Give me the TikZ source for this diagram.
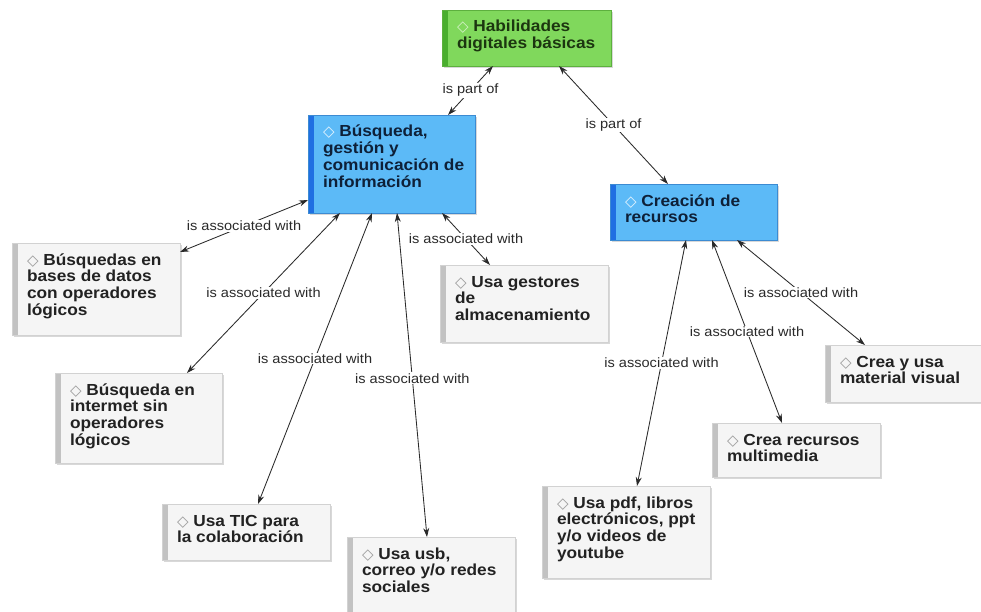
\documentclass[tikz,border=0pt]{standalone}
\usepackage{fontspec}
\setmainfont{Liberation Sans}[FakeStretch=1.08]
\newfontfamily\symfont{DejaVu Sans}
\usetikzlibrary{arrows.meta,shadows}

\definecolor{grfill}{HTML}{80D85C}
\definecolor{grstripe}{HTML}{4AAE2E}
\definecolor{grline}{HTML}{5DB03E}
\definecolor{grtext}{HTML}{1C3610}
\definecolor{blfill}{HTML}{5CBAF7}
\definecolor{blstripe}{HTML}{1F6FE2}
\definecolor{blline}{HTML}{3C8BD2}
\definecolor{bltext}{HTML}{0E2038}
\definecolor{gyfill}{HTML}{F5F5F5}
\definecolor{gystripe}{HTML}{C2C2C2}
\definecolor{gyline}{HTML}{D2D2D2}
\definecolor{gytext}{HTML}{222222}
\definecolor{linkcol}{HTML}{2A2A2A}

% text block of a concept box: width, height, text
\newcommand{\boxtext}[3]{\hspace*{15pt}\parbox[c][#2][t]{\dimexpr#1-21pt\relax}{\raggedright\rule{0pt}{22pt}#3}\hspace*{6pt}}
\newcommand{\dia}[1]{{\symfont\fontsize{15}{15}\selectfont\textcolor{#1}{◇}}\ }

\tikzset{
  concept/.style={anchor=north west, inner sep=0pt, outer sep=0pt,
    font=\fontsize{16}{16.8}\selectfont\bfseries,
    drop shadow={shadow xshift=1.5pt, shadow yshift=-2pt, opacity=0.25, fill=black!60}},
  stripe/.style={path picture={\fill[#1] (path picture bounding box.north west)
      rectangle ([xshift=6pt]path picture bounding box.south west);}},
  greenbox/.style={concept, fill=grfill, draw=grline, line width=0.6pt, stripe=grstripe, text=grtext},
  bluebox/.style={concept, fill=blfill, draw=blline, line width=0.6pt, stripe=blstripe, text=bltext},
  graybox/.style={concept, fill=gyfill, draw=gyline, line width=0.6pt, stripe=gystripe, text=gytext},
  link/.style={draw=linkcol, line width=0.85pt,
    {Stealth[length=9pt,width=6pt]}-{Stealth[length=9pt,width=6pt]}},
  lbl/.style={fill=white, inner sep=1pt, text=linkcol, font=\fontsize{13.5}{14}\selectfont}
}

\begin{document}
\begin{tikzpicture}[x=1pt, y=-1pt]
\useasboundingbox[fill=white] (0,0) rectangle (981,612);

% concept boxes
\node[greenbox] (hab) at (442,10) {\boxtext{169pt}{56pt}{\dia{grfill!35!white}Habilidades\\digitales básicas}};
\node[bluebox] (bgc) at (308,115) {\boxtext{167pt}{98pt}{\dia{white!85!blfill}Búsqueda,\\gestión y\\comunicación de\\información}};
\node[bluebox] (cre) at (610,184) {\boxtext{167pt}{56pt}{\dia{white!85!blfill}Creación de\\recursos}};

\node[graybox] (sdb) at (12,243) {\boxtext{168pt}{92pt}{\dia{black!40}Búsquedas en\\bases de datos\\con operadores\\lógicos}};
\node[graybox] (ges) at (440,265) {\boxtext{168pt}{77pt}{\dia{black!40}Usa gestores\\de\\almacenamiento}};
\node[graybox] (bin) at (55,373) {\boxtext{167pt}{90pt}{\dia{black!40}Búsqueda en\\intermet sin\\operadores\\lógicos}};
\node[graybox] (tic) at (162,504) {\boxtext{168pt}{56pt}{\dia{black!40}Usa TIC para\\la colaboración}};
\node[graybox] (usb) at (347,537) {\boxtext{168pt}{76pt}{\dia{black!40}Usa usb,\\correo y/o redes\\sociales}};
\node[graybox] (pdf) at (542,486) {\boxtext{168pt}{92pt}{\dia{black!40}Usa pdf, libros\\electrónicos, ppt\\y/o videos de\\youtube}};
\node[graybox] (mul) at (712,423) {\boxtext{168pt}{54pt}{\dia{black!40}Crea recursos\\multimedia}};
\node[graybox] (vis) at (825,345) {\boxtext{162pt}{57pt}{\dia{black!40}Crea y usa\\material visual}};

% connectors
\draw[link] ([xshift=140pt]bgc.north west) -- node[lbl]{is part of} ([xshift=51pt]hab.south west);
\draw[link] ([xshift=58pt]cre.north west) -- node[lbl]{is part of} ([xshift=117pt]hab.south west);

\draw[link] ([yshift=-85pt]bgc.north west) -- node[lbl]{is associated with} ([yshift=-9pt]sdb.north east);
\draw[link] ([xshift=32pt]bgc.south west) -- node[lbl]{is associated with} ([xshift=132pt]bin.north west);
\draw[link] ([xshift=64pt]bgc.south west) -- node[lbl]{is associated with} ([xshift=96pt]tic.north west);
\draw[link] ([xshift=89pt]bgc.south west) -- node[lbl, pos=0.51]{is associated with} ([xshift=80pt]usb.north west);
\draw[link] ([xshift=134pt]bgc.south west) -- node[lbl]{is associated with} ([xshift=50pt]ges.north west);

\draw[link] ([xshift=76pt]cre.south west) -- node[lbl]{is associated with} ([xshift=95pt]pdf.north west);
\draw[link] ([xshift=102pt]cre.south west) -- node[lbl]{is associated with} ([xshift=70pt]mul.north west);
\draw[link] ([xshift=127pt]cre.south west) -- node[lbl]{is associated with} ([xshift=40pt]vis.north west);
\end{tikzpicture}
\end{document}
